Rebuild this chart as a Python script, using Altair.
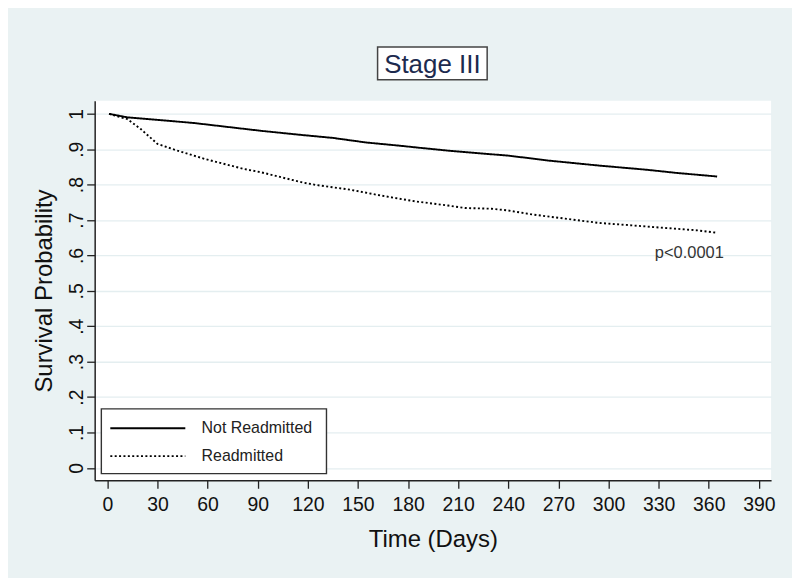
import altair as alt
import pandas as pd

# ---- data ----
groups = ["Not Readmitted", "Readmitted"]

days_not = [1, 12, 30, 52, 72, 92, 117, 135, 155, 175, 185, 204, 224, 240, 264, 294, 323, 341, 365]
surv_not = [1.0, 0.990, 0.983, 0.974, 0.963, 0.952, 0.940, 0.932, 0.919, 0.910, 0.905, 0.896,
            0.888, 0.882, 0.868, 0.854, 0.842, 0.833, 0.823]

days_re = [1, 12, 20, 30, 42, 58, 72, 82, 92, 104, 117, 125, 145, 164, 184, 204, 214, 230,
           240, 254, 274, 294, 314, 333, 353, 365]
surv_re = [1.0, 0.985, 0.957, 0.915, 0.896, 0.873, 0.856, 0.844, 0.835, 0.821, 0.806, 0.799,
           0.786, 0.769, 0.753, 0.741, 0.734, 0.732, 0.727, 0.716, 0.704, 0.692, 0.685, 0.678,
           0.671, 0.664]

x_ticks = list(range(0, 391, 30))
y_ticks = [round(i / 10, 1) for i in range(0, 11)]

chart_title = "Stage III"
x_title = "Time (Days)"
y_title = "Survival Probability"
p_label = "p<0.0001"
p_label_day = 369
p_label_surv = 0.606

FONT = "Liberation Sans, Arial, Helvetica, sans-serif"

df = pd.concat([
    pd.DataFrame({"day": days_not, "surv": surv_not, "group": groups[0], "order": range(len(days_not))}),
    pd.DataFrame({"day": days_re, "surv": surv_re, "group": groups[1], "order": range(len(days_re))}),
])

xscale = alt.Scale(domain=[-7.6, 397.3], nice=False, zero=False)
yscale = alt.Scale(domain=[-0.035, 1.037], nice=False, zero=False)
dash_scale = alt.Scale(domain=groups, range=[[1, 0], [2, 2.4]])

lines = alt.Chart(df).mark_line(color="black", strokeWidth=1.9).encode(
    x=alt.X("day:Q", scale=xscale,
            axis=alt.Axis(values=x_ticks, tickCount=20, title=x_title, grid=False, labelOverlap=False,
                          labelBaseline="alphabetic", labelPadding=22.7, tickSize=8,
                          titleX=339.5, titleY=66.2, titleBaseline="alphabetic",
                          titleAlign="center")),
    y=alt.Y("surv:Q", scale=yscale,
            axis=alt.Axis(values=y_ticks, tickCount=20, title=y_title, grid=True, labelOverlap=False,
                          labelExpr="datum.value == 0 ? '0' : (datum.value == 1 ? '1' : replace(format(datum.value, '.1f'), '0.', '.'))",
                          labelAngle=270, labelAlign="center", labelBaseline="alphabetic",
                          labelPadding=4.5, tickSize=8,
                          titleAngle=270, titleX=-43.5, titleY=190.5,
                          titleBaseline="alphabetic", titleAlign="center")),
    strokeDash=alt.StrokeDash("group:N", scale=dash_scale, legend=None),
    order="order:Q",
)

ptext = alt.Chart(pd.DataFrame({"day": [p_label_day], "surv": [p_label_surv], "t": [p_label]})).mark_text(
    align="right", baseline="middle", fontSize=16.5, font=FONT, color="#333"
).encode(x=alt.X("day:Q", scale=xscale), y=alt.Y("surv:Q", scale=yscale), text="t:N")

# title box (Stata-style framed title)
title_box = alt.Chart(pd.DataFrame({"t": [chart_title]})).mark_rect(
    fill="white", stroke="#444", strokeWidth=1.5
).encode(x=alt.value(284), x2=alt.value(394), y=alt.value(-54), y2=alt.value(-21))

title_text = alt.Chart(pd.DataFrame({"t": [chart_title]})).mark_text(
    align="center", baseline="alphabetic", fontSize=26, font=FONT, color="#1C2A4E"
).encode(x=alt.value(339), y=alt.value(-27.7), text="t:N")

# framed legend (inside the plot, lower left)
legend_df = pd.DataFrame({"group": groups})
legend_box = alt.Chart(legend_df.head(1)).mark_rect(
    fill="white", stroke="#333", strokeWidth=1.4
).encode(x=alt.value(6.7), x2=alt.value(232.7), y=alt.value(309.3), y2=alt.value(374.3))

legend_layers = [legend_box]
for i, g in enumerate(groups):
    base = alt.Chart(legend_df).transform_filter(alt.datum.group == g)
    legend_layers.append(
        base.mark_rule(color="black", strokeWidth=1.9).encode(
            x=alt.value(15.7), x2=alt.value(91), y=alt.value(328.7 + 28 * i),
            strokeDash=alt.StrokeDash("group:N", scale=dash_scale, legend=None))
    )
    legend_layers.append(
        base.mark_text(align="left", baseline="middle", fontSize=16, font=FONT, color="#222").encode(
            x=alt.value(107.3), y=alt.value(328.7 + 28 * i), text="group:N")
    )

chart = alt.layer(lines, ptext, title_box, title_text, *legend_layers).properties(
    width=679, height=381,
    autosize=alt.AutoSizeParams(type="none"),
    padding={"left": 87, "top": 92, "right": 21, "bottom": 97},
    background="#EAF2F3",
).configure_view(
    fill="white", stroke=None
).configure_axis(
    labelFont=FONT, titleFont=FONT, labelFontSize=19.5, titleFontSize=24,
    labelColor="#111", titleColor="#111", domainColor="#222", tickColor="#222",
    domainWidth=1.5, tickWidth=1.3, gridColor="#E4EEF0", gridWidth=1.3,
    titleFontWeight="normal",
)

chart.save("out.html", embed_options={"renderer": "svg", "actions": False})
